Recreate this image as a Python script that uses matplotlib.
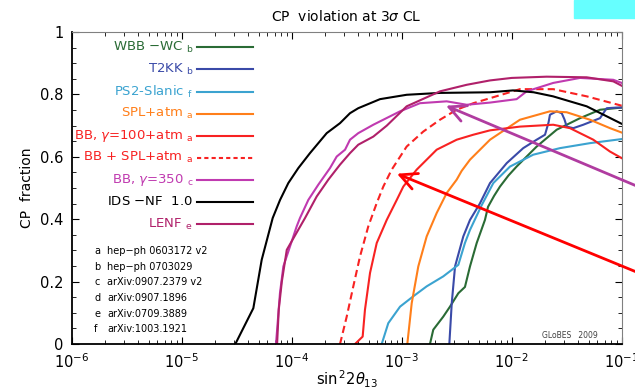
import numpy as np
import matplotlib
matplotlib.use('Agg')
import matplotlib.pyplot as plt
import matplotlib.patches as patches
from matplotlib.ticker import MultipleLocator, LogLocator, NullFormatter

# values: x as log10(sin^2 2theta13), y as CP fraction
wbb_lx = [-2.743, -2.713, -2.622, -2.561, -2.485, -2.425, -2.379, -2.318, -2.243, -2.215, -2.16,
          -2.106, -2.03, -1.955, -1.773, -1.591, -1.379, -1.197, -1.0]
wbb_y = [0, 0.046, 0.088, 0.12, 0.163, 0.183, 0.249, 0.324, 0.398, 0.44, 0.475,
         0.505, 0.54, 0.569, 0.633, 0.687, 0.724, 0.751, 0.758]

t2kk_lx = [-2.567, -2.545, -2.515, -2.44, -2.379, -2.29, -2.197, -2.045, -1.895, -1.773, -1.697,
           -1.665, -1.652, -1.591, -1.545, -1.52, -1.5, -1.44, -1.349, -1.197, -1.136, -1.045, -1.0]
t2kk_y = [0, 0.131, 0.249, 0.345, 0.398, 0.45, 0.516, 0.58, 0.628, 0.655, 0.671,
          0.71, 0.735, 0.746, 0.74, 0.72, 0.697, 0.692, 0.703, 0.724, 0.756, 0.758, 0.758]

ps2_lx = [-3.182, -3.122, -3.015, -2.895, -2.773, -2.622, -2.485, -2.425, -2.379, -2.273, -2.167,
          -2.015, -1.804, -1.561, -1.288, -1.0]
ps2_y = [0, 0.067, 0.12, 0.153, 0.185, 0.217, 0.254, 0.324, 0.366, 0.445, 0.516,
         0.569, 0.607, 0.628, 0.644, 0.657]

spl_lx = [-2.949, -2.909, -2.849, -2.773, -2.682, -2.591, -2.5, -2.455, -2.379, -2.197, -1.925,
          -1.652, -1.5, -1.288, -1.106, -1.0]
spl_y = [0, 0.131, 0.249, 0.345, 0.42, 0.484, 0.527, 0.555, 0.591, 0.655, 0.719,
         0.746, 0.743, 0.719, 0.692, 0.678]

bb100_lx = [-3.425, -3.355, -3.334, -3.288, -3.227, -3.136, -3.045, -2.985, -2.864, -2.682, -2.5,
            -2.349, -2.197, -1.925, -1.622, -1.47, -1.258, -1.106, -1.0]
bb100_y = [0, 0.024, 0.11, 0.228, 0.324, 0.398, 0.462, 0.505, 0.559, 0.623, 0.655,
           0.671, 0.685, 0.697, 0.703, 0.692, 0.655, 0.617, 0.596]

bbspl_lx = [-3.561, -3.5, -3.44, -3.379, -3.304, -3.227, -3.167, -3.091, -2.955, -2.804, -2.652,
            -2.5, -2.349, -2.197, -1.925, -1.622, -1.318, -1.0]
bbspl_y = [0, 0.088, 0.185, 0.281, 0.377, 0.452, 0.505, 0.559, 0.633, 0.681, 0.719,
           0.751, 0.772, 0.788, 0.817, 0.817, 0.794, 0.764]

bb350_lx = [-4.143, -4.107, -4.076, -3.955, -3.925, -3.849, -3.758, -3.652, -3.591, -3.515, -3.47,
            -3.395, -3.258, -3.015, -2.834, -2.591, -2.409, -2.197, -1.955, -1.864, -1.622, -1.379,
            -1.076, -1.0]
bb350_y = [0, 0.163, 0.249, 0.377, 0.404, 0.462, 0.511, 0.564, 0.601, 0.623, 0.655,
           0.676, 0.703, 0.746, 0.772, 0.778, 0.767, 0.774, 0.785, 0.81, 0.837, 0.853,
           0.847, 0.837]

ids_lx = [-4.513, -4.349, -4.273, -4.173, -4.106, -4.031, -3.94, -3.834, -3.682, -3.561, -3.47,
          -3.395, -3.197, -2.955, -2.652, -2.197, -1.988, -1.8, -1.624, -1.318, -1.0]
ids_y = [0, 0.115, 0.27, 0.404, 0.462, 0.516, 0.564, 0.612, 0.676, 0.708, 0.74,
         0.756, 0.785, 0.799, 0.805, 0.807, 0.813, 0.807, 0.794, 0.762, 0.706]

lenf_lx = [-4.133, -4.118, -4.09, -4.045, -3.879, -3.773, -3.667, -3.561, -3.47, -3.395, -3.258,
           -3.136, -2.955, -2.652, -2.409, -2.197, -2.0, -1.682, -1.318, -1.076, -1.0]
lenf_y = [0, 0.11, 0.2, 0.302, 0.404, 0.473, 0.527, 0.575, 0.612, 0.639, 0.665,
          0.7, 0.762, 0.81, 0.831, 0.845, 0.853, 0.857, 0.855, 0.842, 0.828]

labels = [r'WBB $-$WC $_\mathregular{b}$', r'T2KK $_\mathregular{b}$', r'PS2-Slanic $_\mathregular{f}$',
          r'SPL+atm $_\mathregular{a}$', r'BB, $\gamma$=100+atm $_\mathregular{a}$',
          r'BB + SPL+atm $_\mathregular{a}$', r'BB, $\gamma$=350 $_\mathregular{c}$',
          r'IDS $-$NF  1.0', r'LENF $_\mathregular{e}$']
colors = ['#2a6b35', '#3a4aa8', '#3ba3d0', '#ff7f1a', '#f82222', '#f82222', '#c03ab0', 'black', '#b0206a']
styles = ['-', '-', '-', '-', '-', '--', '-', '-', '-']
series = [(wbb_lx, wbb_y), (t2kk_lx, t2kk_y), (ps2_lx, ps2_y), (spl_lx, spl_y), (bb100_lx, bb100_y),
          (bbspl_lx, bbspl_y), (bb350_lx, bb350_y), (ids_lx, ids_y), (lenf_lx, lenf_y)]

refs = ['a', 'b', 'c', 'd', 'e', 'f']
ref_names = [u'hep\u2212ph 0603172 v2', u'hep\u2212ph 0703029', 'arXiv:0907.2379 v2',
             'arXiv:0907.1896', 'arXiv:0709.3889', 'arXiv:1003.1921']

fig = plt.figure(figsize=(6.35, 3.91), dpi=100)
ax = fig.add_axes([0.113, 0.120, 0.866, 0.798])

# cyan block in the top right corner
fig.patches.append(patches.Rectangle((574 / 635, 1 - 18 / 391), 61 / 635, 18 / 391,
                                     transform=fig.transFigure, color='#66ffff', zorder=0))

for (lx, y), c, ls in zip(series, colors, styles):
    if ls == '--':
        ax.plot(10 ** np.array(lx), y, color=c, lw=1.5, dashes=(3.5, 2))
    else:
        ax.plot(10 ** np.array(lx), y, color=c, lw=1.5)

# hand-made legend
for i, (lab, c, ls) in enumerate(zip(labels, colors, styles)):
    yy = 0.951 - i * 0.0708
    ax.text(0.221, yy, lab, color=c, fontsize=9.5, ha='right', va='center', transform=ax.transAxes)
    if ls == '--':
        ax.plot([0.228, 0.33], [yy, yy], color=c, lw=1.5, dashes=(2, 1.5), transform=ax.transAxes)
    else:
        ax.plot([0.228, 0.33], [yy, yy], color=c, lw=1.5, transform=ax.transAxes)

for i, (r, n) in enumerate(zip(refs, ref_names)):
    yy = 0.297 - i * 0.0498
    ax.text(0.041, yy, r, fontsize=7, ha='left', va='center', transform=ax.transAxes)
    ax.text(0.064, yy, n, fontsize=7, ha='left', va='center', transform=ax.transAxes)

ax.text(0.855, 0.018, 'GLoBES   2009', fontsize=5.5, color='#404040', transform=ax.transAxes)

# arrows pointing in from outside the frame
ax.annotate('', xy=(10 ** -3.043, 0.546), xytext=(10 ** -0.651, 0.2),
            arrowprops=dict(arrowstyle='->,head_length=1.2,head_width=0.6', color='#ff0000',
                            lw=2, shrinkA=0, shrinkB=0), annotation_clip=False)
ax.annotate('', xy=(10 ** -2.597, 0.764), xytext=(10 ** -0.651, 0.475),
            arrowprops=dict(arrowstyle='->,head_length=1.2,head_width=0.6', color='#b03ca0',
                            lw=2, shrinkA=0, shrinkB=0), annotation_clip=False)

ax.set_xscale('log')
ax.set_xlim(1e-6, 1e-1)
ax.set_ylim(0, 1)
ax.set_yticks([0, 0.2, 0.4, 0.6, 0.8, 1])
ax.set_yticklabels(['0', '0.2', '0.4', '0.6', '0.8', '1'])
ax.yaxis.set_minor_locator(MultipleLocator(0.05))
ax.xaxis.set_minor_locator(LogLocator(base=10, subs=np.arange(2, 10)))
ax.xaxis.set_minor_formatter(NullFormatter())
ax.tick_params(which='both', direction='in', top=True, right=True, labelsize=10.5, pad=6)
ax.tick_params(which='major', length=5)
ax.tick_params(which='minor', length=3)

for s in ['top', 'right']:
    ax.spines[s].set_color('#808080')
ax.spines['left'].set_linewidth(1.3)
ax.spines['bottom'].set_linewidth(1.3)

ax.set_title(r'CP  violation at 3$\sigma$ CL', fontsize=10, pad=8)
ax.set_ylabel('CP  fraction', fontsize=10)
ax.set_xlabel(r'sin$^{\,2}$2$\theta_{13}$', fontsize=10.5, labelpad=-2)

fig.savefig('out.png', dpi=100)
